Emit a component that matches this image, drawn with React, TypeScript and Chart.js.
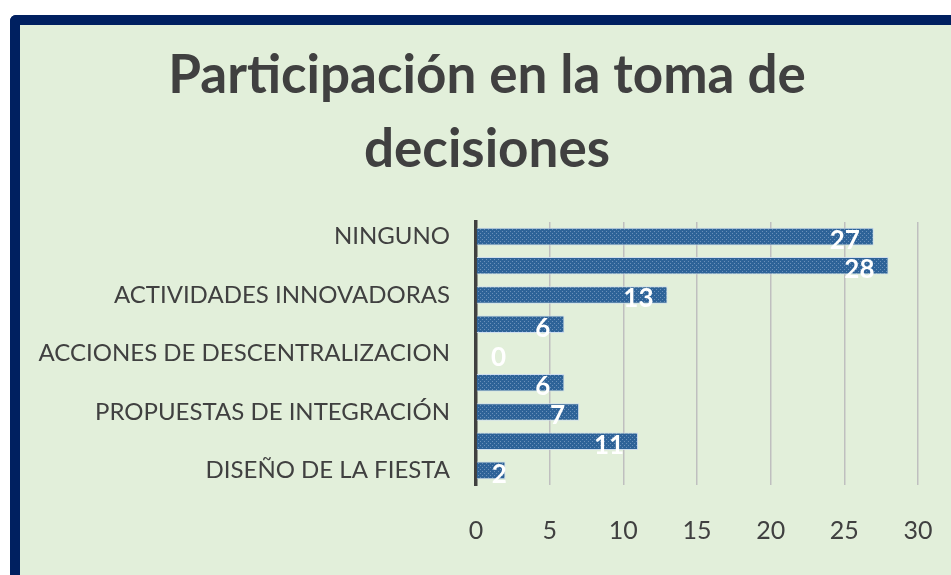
import React, { useEffect, useRef } from "react";
import { Chart, registerables } from "chart.js";

Chart.register(...registerables);

const categories = [
  "NINGUNO",
  "ORGANIZACIÓN DE EVENTOS",
  "ACTIVIDADES INNOVADORAS",
  "GESTIÓN DE RECURSOS",
  "ACCIONES DE DESCENTRALIZACION",
  "PROYECTOS COMUNITARIOS",
  "PROPUESTAS DE INTEGRACIÓN",
  "ELECCIÓN DE AUTORIDADES",
  "DISEÑO DE LA FIESTA",
];
const values = [27, 28, 13, 6, 0, 6, 7, 11, 2];
const xTicks = [0, 5, 10, 15, 20, 25, 30];
const titleLines = ["Participación en la toma de", "decisiones"];

const FONT = "Lato, 'Open Sans', sans-serif";

function makePattern(): CanvasPattern | string {
  const c = document.createElement("canvas");
  c.width = 4;
  c.height = 4;
  const g = c.getContext("2d");
  if (!g) return "#2E6396";
  g.fillStyle = "#2E6398";
  g.fillRect(0, 0, 4, 4);
  g.fillStyle = "#6A90BA";
  g.fillRect(0, 0, 1, 1);
  g.fillRect(2, 2, 1, 1);
  const p = g.createPattern(c, "repeat");
  return p || "#2E6396";
}

const titlePlugin = {
  id: "centeredTitle",
  afterDraw(chart: any) {
    const ctx = chart.ctx;
    ctx.save();
    ctx.fillStyle = "#404040";
    ctx.font = `bold 53px ${FONT}`;
    ctx.textAlign = "center";
    ctx.textBaseline = "middle";
    titleLines.forEach((line, i) => {
      ctx.fillText(line, 467, 51 + i * 74);
    });
    ctx.restore();
  },
};

const valueLabels = {
  id: "valueLabels",
  afterDatasetsDraw(chart: any) {
    const ctx = chart.ctx;
    const meta = chart.getDatasetMeta(0);
    ctx.save();
    ctx.fillStyle = "#FFFFFF";
    ctx.font = `bold 26px ${FONT}`;
    ctx.textAlign = "right";
    ctx.textBaseline = "middle";
    meta.data.forEach((el: any, i: number) => {
      const v = chart.data.datasets[0].data[i];
      const base = el.base;
      const x = Math.max(el.x - 14, base + 30);
      ctx.fillText(String(v), x, el.y + 4);
    });
    ctx.restore();
  },
};

export default function App() {
  const ref = useRef<HTMLCanvasElement | null>(null);
  useEffect(() => {
    if (!ref.current) return;
    const chart = new Chart(ref.current, {
      type: "bar",
      data: {
        labels: categories,
        datasets: [
          {
            data: values,
            backgroundColor: makePattern() as any,
            borderColor: "rgba(205,220,238,0.9)",
            borderWidth: 1,
            barPercentage: 0.6,
            categoryPercentage: 1,
          },
        ],
      },
      options: {
        indexAxis: "y",
        responsive: false,
        animation: false,
        layout: { padding: { top: 197, left: 0, right: 33, bottom: 0 } },
        plugins: {
          legend: { display: false },
          tooltip: { enabled: false },
          title: { display: false },
        },
        scales: {
          x: {
            min: 0,
            max: 30,
            afterBuildTicks(scale: any) {
              scale.ticks = xTicks.map((v) => ({ value: v }));
            },
            afterFit(scale: any) {
              scale.height = 90;
              scale.paddingLeft = 0;
              scale.paddingRight = 0;
            },
            grid: { color: "#BFBFBF", lineWidth: 1.5, drawTicks: false },
            border: { display: false },
            ticks: {
              color: "#404040",
              font: { family: FONT, size: 25 },
              padding: 31,
            },
          },
          y: {
            afterFit(scale: any) {
              scale.width = 456;
              scale.paddingTop = 0;
              scale.paddingBottom = 0;
            },
            grid: { display: false, drawTicks: false },
            border: { display: true, color: "#404040", width: 3.5 },
            ticks: {
              autoSkip: false,
              color: "#404040",
              font: { family: FONT, size: 24 },
              padding: 26,
              callback: (_v: any, i: number) => (i % 2 === 0 ? categories[i] : ""),
            },
          },
        },
      },
      plugins: [valueLabels, titlePlugin],
    });
    return () => chart.destroy();
  }, []);

  return (
    <div
      style={{
        position: "fixed",
        left: 10,
        top: 15,
        width: 960,
        height: 600,
        borderLeft: "10px solid #002060",
        borderTop: "10px solid #002060",
        borderTopLeftRadius: 6,
        background: "#E2EFDA",
      }}
    >
      <canvas ref={ref} width={931} height={550} style={{ display: "block" }} />
    </div>
  );
}
